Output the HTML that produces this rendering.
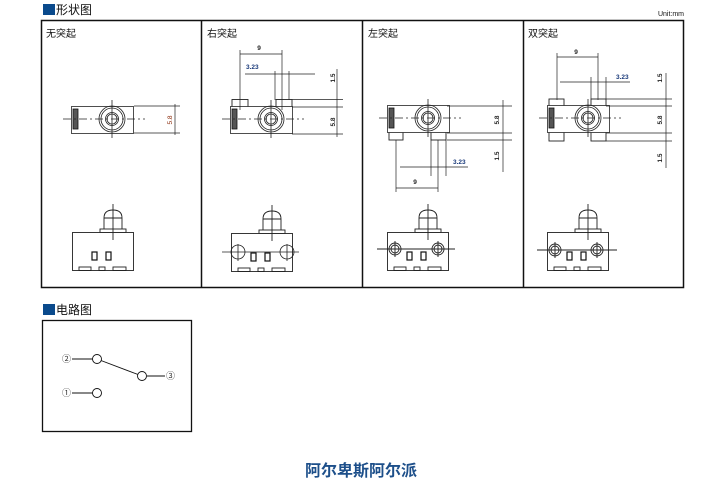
<!DOCTYPE html>
<html><head><meta charset="utf-8"><style>
html,body{margin:0;padding:0;background:#fff;width:707px;height:489px;overflow:hidden}
svg{display:block}
text{font-family:"Liberation Sans","Noto Sans CJK SC",sans-serif}
</style></head><body>
<svg width="707" height="489" viewBox="0 0 707 489" xmlns="http://www.w3.org/2000/svg">
<defs>
<g id="top" fill="none" stroke="#222" stroke-width="0.8">
  <rect x="71.5" y="106.5" width="62" height="27" fill="#fff"/>
  <rect x="73" y="109" width="5" height="20" fill="#555" stroke="#111"/>
  <circle cx="112" cy="119" r="13"/><circle cx="112" cy="119" r="11"/>
  <circle cx="112" cy="119" r="6.5"/><circle cx="112" cy="119" r="5"/>
  <line x1="63" y1="119" x2="145" y2="119" stroke-dasharray="8,3,2,3"/>
  <line x1="112" y1="100" x2="112" y2="138"/>
</g>
<g id="bot" fill="none" stroke="#222" stroke-width="0.9">
  <path d="M104 229 L104 218 Q104 210 113 210 Q122 210 122 218 L122 229" fill="#fff"/>
  <line x1="104" y1="218" x2="122" y2="218"/>
  <rect x="100" y="229" width="26" height="3.5" fill="#fff"/>
  <rect x="72.5" y="232.5" width="61" height="38" fill="#fff"/>
  <line x1="113" y1="204" x2="113" y2="240"/>
  <rect x="79" y="267" width="12" height="3.5"/><rect x="99" y="267" width="6" height="3.5"/><rect x="113" y="267" width="13" height="3.5"/>
</g>
<g id="sq" fill="none" stroke="#111" stroke-width="1.2">
  <rect x="92" y="252" width="5" height="8"/><rect x="106" y="252" width="5" height="8"/>
</g>
</defs>
<rect x="43" y="4" width="12" height="11" fill="#0a4a8c"/>
<text x="56" y="14" font-size="12" fill="#111">形状图</text>
<text x="684" y="16" font-size="7" fill="#111" text-anchor="end">Unit:mm</text>
<rect x="41.5" y="20.5" width="642" height="267" fill="none" stroke="#111" stroke-width="1.5"/>
<g stroke="#111" stroke-width="1.5"><line x1="201.5" y1="20" x2="201.5" y2="288"/><line x1="362.5" y1="20" x2="362.5" y2="288"/><line x1="523.5" y1="20" x2="523.5" y2="288"/></g>
<g font-size="10" fill="#111"><text x="46" y="37">无突起</text><text x="207" y="37">右突起</text><text x="368" y="37">左突起</text><text x="528" y="37">双突起</text></g>

<!-- panel 1 -->
<use href="#top"/>
<g stroke="#222" stroke-width="0.7" fill="none">
<line x1="134" y1="106" x2="180" y2="106"/><line x1="134" y1="133" x2="180" y2="133"/><line x1="175" y1="104" x2="175" y2="135"/></g>
<text transform="translate(172,120) rotate(-90)" font-size="6.5" fill="#8a2a0a" text-anchor="middle">5.8</text>
<use href="#bot"/><use href="#sq"/>

<!-- panel 2 -->
<g fill="#fff" stroke="#222" stroke-width="0.9"><rect x="232" y="99.5" width="16" height="8"/><rect x="276" y="99.5" width="16" height="8"/></g>
<use href="#top" transform="translate(159,0)"/>
<g stroke="#222" stroke-width="0.7" fill="none">
<line x1="240" y1="50" x2="240" y2="110"/><line x1="282" y1="50" x2="282" y2="110"/><line x1="240" y1="54" x2="282" y2="54"/>
<line x1="245" y1="74" x2="315" y2="74"/><line x1="275" y1="71" x2="275" y2="100"/><line x1="289" y1="71" x2="289" y2="100"/>
<line x1="292" y1="99.5" x2="343" y2="99.5"/><line x1="292" y1="107" x2="343" y2="107"/><line x1="292" y1="134" x2="343" y2="134"/>
<line x1="337" y1="69" x2="337" y2="137"/></g>
<g font-size="6.5" font-weight="bold" fill="#222"><text x="259" y="50" text-anchor="middle">9</text><text x="246" y="69" fill="#1a3a7a">3.23</text>
<text transform="translate(335,78) rotate(-90)" text-anchor="middle">1.5</text><text transform="translate(335,122) rotate(-90)" text-anchor="middle">5.8</text></g>
<use href="#bot" transform="translate(159,1)"/><use href="#sq" transform="translate(159,1)"/>
<g fill="none" stroke="#222" stroke-width="0.8"><circle cx="238" cy="252" r="7"/><circle cx="287" cy="252" r="7"/>
<line x1="222" y1="252" x2="299" y2="252"/><line x1="238" y1="244" x2="238" y2="261"/><line x1="287" y1="244" x2="287" y2="261"/></g>

<!-- panel 3 -->
<g fill="#fff" stroke="#222" stroke-width="0.9"><rect x="389" y="132" width="14" height="8"/><rect x="431" y="132" width="15" height="8"/></g>
<use href="#top" transform="translate(316,-1)"/>
<g stroke="#222" stroke-width="0.7" fill="none">
<line x1="447" y1="106" x2="512" y2="106"/><line x1="447" y1="133" x2="512" y2="133"/><line x1="447" y1="140" x2="512" y2="140"/>
<line x1="503" y1="100" x2="503" y2="172"/>
<line x1="400" y1="167" x2="468" y2="167"/><line x1="431" y1="140" x2="431" y2="176"/><line x1="446" y1="140" x2="446" y2="176"/>
<line x1="396" y1="140" x2="396" y2="192"/><line x1="438" y1="140" x2="438" y2="192"/><line x1="396" y1="188" x2="438" y2="188"/></g>
<g font-size="6.5" font-weight="bold" fill="#222"><text x="415" y="184" text-anchor="middle">9</text><text x="453" y="164" fill="#1a3a7a">3.23</text>
<text transform="translate(499,120) rotate(-90)" text-anchor="middle">5.8</text><text transform="translate(499,156) rotate(-90)" text-anchor="middle">1.5</text></g>
<use href="#bot" transform="translate(315,0)"/><use href="#sq" transform="translate(315,0)"/>
<g fill="none" stroke="#222" stroke-width="0.9"><circle cx="395" cy="249" r="6"/><circle cx="395" cy="249" r="4"/><circle cx="438" cy="249" r="6"/><circle cx="438" cy="249" r="4"/>
<line x1="377" y1="249" x2="455" y2="249"/><line x1="395" y1="241" x2="395" y2="257"/><line x1="438" y1="241" x2="438" y2="257"/></g>

<!-- panel 4 -->
<g fill="#fff" stroke="#222" stroke-width="0.9"><rect x="549" y="99" width="15" height="8"/><rect x="591" y="99" width="15" height="8"/><rect x="549" y="132" width="15" height="9"/><rect x="591" y="132" width="15" height="9"/></g>
<use href="#top" transform="translate(476,-1)"/>
<g stroke="#222" stroke-width="0.7" fill="none">
<line x1="557" y1="53" x2="557" y2="100"/><line x1="598" y1="53" x2="598" y2="100"/><line x1="557" y1="57" x2="598" y2="57"/>
<line x1="560" y1="82" x2="630" y2="82"/><line x1="591" y1="77" x2="591" y2="99"/><line x1="606" y1="77" x2="606" y2="99"/>
<line x1="606" y1="99" x2="672" y2="99"/><line x1="606" y1="106" x2="672" y2="106"/><line x1="606" y1="133" x2="672" y2="133"/><line x1="606" y1="141" x2="672" y2="141"/>
<line x1="666" y1="73" x2="666" y2="168"/></g>
<g font-size="6.5" font-weight="bold" fill="#222"><text x="576" y="54" text-anchor="middle">9</text><text x="616" y="79" fill="#1a3a7a">3.23</text>
<text transform="translate(662,78) rotate(-90)" text-anchor="middle">1.5</text><text transform="translate(662,120) rotate(-90)" text-anchor="middle">5.8</text><text transform="translate(662,158) rotate(-90)" text-anchor="middle">1.5</text></g>
<use href="#bot" transform="translate(475,0)"/><use href="#sq" transform="translate(475,0)"/>
<g fill="none" stroke="#222" stroke-width="0.9"><circle cx="555" cy="250" r="6"/><circle cx="555" cy="250" r="4"/><circle cx="597" cy="250" r="6"/><circle cx="597" cy="250" r="4"/>
<line x1="537" y1="250" x2="617" y2="250"/><line x1="555" y1="242" x2="555" y2="258"/><line x1="597" y1="242" x2="597" y2="258"/></g>

<!-- circuit -->
<rect x="43" y="304" width="12" height="11" fill="#0a4a8c"/>
<text x="56" y="314" font-size="12" fill="#111">电路图</text>
<rect x="42.5" y="320.5" width="149" height="111" fill="none" stroke="#111" stroke-width="1.3"/>
<g stroke="#111" stroke-width="0.9" fill="#fff">
<line x1="72" y1="359" x2="93" y2="359"/><line x1="97" y1="359" x2="142" y2="376"/><line x1="147" y1="376" x2="165" y2="376"/><line x1="72" y1="393" x2="93" y2="393"/>
<circle cx="97" cy="359" r="4.5"/><circle cx="142" cy="376" r="4.5"/><circle cx="97" cy="393" r="4.5"/></g>
<g font-size="9" fill="#333"><text x="62" y="362">②</text><text x="166" y="379">③</text><text x="62" y="396">①</text></g>

<text x="361" y="476" font-size="16" font-weight="bold" fill="#1d4f8a" text-anchor="middle">阿尔卑斯阿尔派</text>
</svg>
</body></html>
